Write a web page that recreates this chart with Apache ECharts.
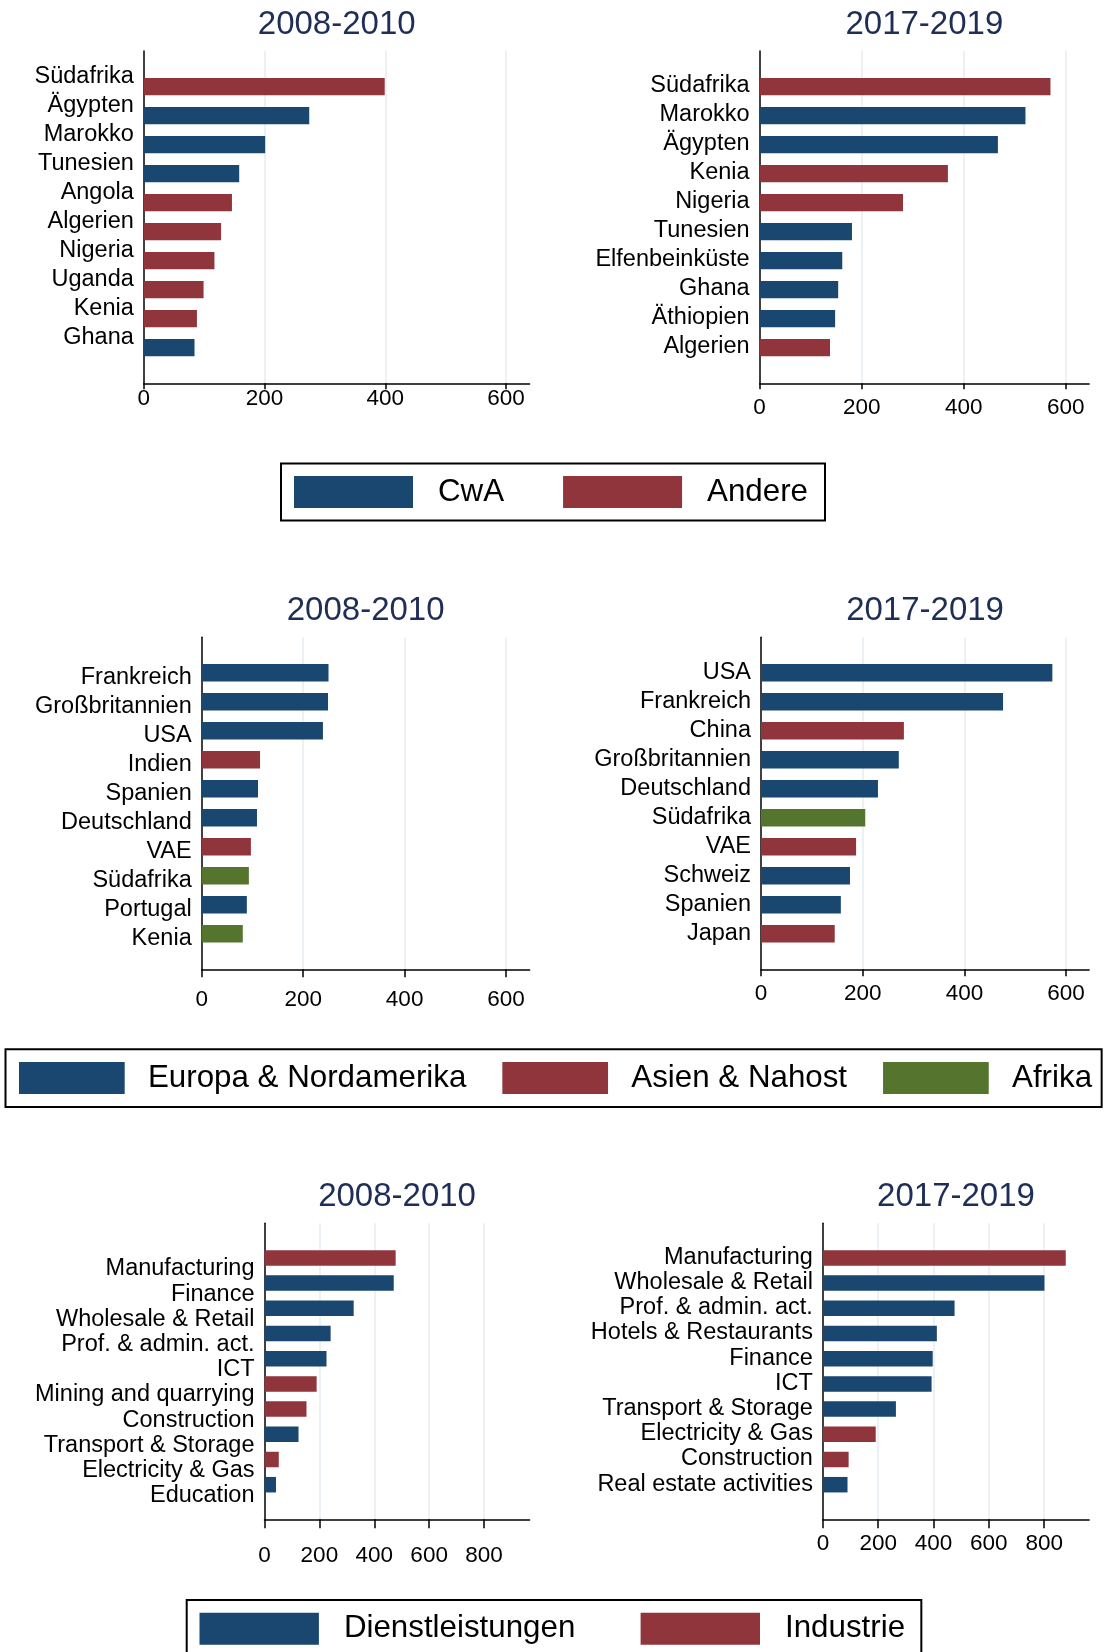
<!DOCTYPE html>
<html>
<head>
<meta charset="utf-8">
<script src="https://cdn.jsdelivr.net/npm/echarts@6/dist/echarts.min.js"></script>
<style>
  html, body { margin: 0; padding: 0; background: #fff; }
  #chart { width: 1105px; height: 1652px; }
</style>
</head>
<body>
<div id="chart"></div>
<script>
// --- data ---
const groupsAfrica = ["CwA", "Andere"];
const groupsRegion = ["Europa & Nordamerika", "Asien & Nahost", "Afrika"];
const groupsSector = ["Dienstleistungen", "Industrie"];

const ticks600 = [0, 200, 400, 600];
const ticks800 = [0, 200, 400, 600, 800];

const cat1 = ["Südafrika", "Ägypten", "Marokko", "Tunesien", "Angola", "Algerien", "Nigeria", "Uganda", "Kenia", "Ghana"];
const val1 = [399, 274, 201, 158, 146, 128, 117, 99, 88, 84];
const grp1 = ["Andere", "CwA", "CwA", "CwA", "Andere", "Andere", "Andere", "Andere", "Andere", "CwA"];

const cat2 = ["Südafrika", "Marokko", "Ägypten", "Kenia", "Nigeria", "Tunesien", "Elfenbeinküste", "Ghana", "Äthiopien", "Algerien"];
const val2 = [570, 521, 467, 369, 281, 181, 162, 154, 148, 138];
const grp2 = ["Andere", "CwA", "CwA", "Andere", "Andere", "CwA", "CwA", "CwA", "CwA", "Andere"];

const cat3 = ["Frankreich", "Großbritannien", "USA", "Indien", "Spanien", "Deutschland", "VAE", "Südafrika", "Portugal", "Kenia"];
const val3 = [250, 249, 239, 115, 111, 109, 97, 93, 89, 81];
const grp3 = ["Europa & Nordamerika", "Europa & Nordamerika", "Europa & Nordamerika", "Asien & Nahost", "Europa & Nordamerika",
              "Europa & Nordamerika", "Asien & Nahost", "Afrika", "Europa & Nordamerika", "Afrika"];

const cat4 = ["USA", "Frankreich", "China", "Großbritannien", "Deutschland", "Südafrika", "VAE", "Schweiz", "Spanien", "Japan"];
const val4 = [573, 476, 281, 271, 230, 205, 187, 175, 157, 145];
const grp4 = ["Europa & Nordamerika", "Europa & Nordamerika", "Asien & Nahost", "Europa & Nordamerika", "Europa & Nordamerika",
              "Afrika", "Asien & Nahost", "Europa & Nordamerika", "Europa & Nordamerika", "Asien & Nahost"];

const cat5 = ["Manufacturing", "Finance", "Wholesale & Retail", "Prof. & admin. act.", "ICT", "Mining and quarrying",
              "Construction", "Transport & Storage", "Electricity & Gas", "Education"];
const val5 = [478, 471, 325, 241, 226, 190, 153, 124, 52, 42];
const grp5 = ["Industrie", "Dienstleistungen", "Dienstleistungen", "Dienstleistungen", "Dienstleistungen", "Industrie",
              "Industrie", "Dienstleistungen", "Industrie", "Dienstleistungen"];

const cat6 = ["Manufacturing", "Wholesale & Retail", "Prof. & admin. act.", "Hotels & Restaurants", "Finance", "ICT",
              "Transport & Storage", "Electricity & Gas", "Construction", "Real estate activities"];
const val6 = [878, 801, 476, 412, 397, 393, 264, 191, 93, 89];
const grp6 = ["Industrie", "Dienstleistungen", "Dienstleistungen", "Dienstleistungen", "Dienstleistungen", "Dienstleistungen",
              "Dienstleistungen", "Industrie", "Industrie", "Dienstleistungen"];

// --- styles / layout ---
const FONT = "'Liberation Sans', Arial, Helvetica, sans-serif";
const BLUE = "#1a476f", RED = "#90353b", GREEN = "#55752f";
const colors = {
  "CwA": BLUE, "Andere": RED,
  "Europa & Nordamerika": BLUE, "Asien & Nahost": RED, "Afrika": GREEN,
  "Dienstleistungen": BLUE, "Industrie": RED
};

const panels = [
  { title: "2008-2010", cats: cat1, vals: val1, grps: grp1, groups: groupsAfrica, ticks: ticks600,
    L: 143.8, T: 51, H: 332.3, R: 529.6, ppu: 0.6038, step: 29, barH: 17.4, lblOff: -10.5, tickMargin: 4, tickLen: 6, titleTop: 8 },
  { title: "2017-2019", cats: cat2, vals: val2, grps: grp2, groups: groupsAfrica, ticks: ticks600,
    L: 759.6, T: 51, H: 332.3, R: 1089.1, ppu: 0.5103, step: 29, barH: 17.4, lblOff: -1, tickMargin: 13, tickLen: 6, titleTop: 8 },
  { title: "2008-2010", cats: cat3, vals: val3, grps: grp3, groups: groupsRegion, ticks: ticks600,
    L: 201.7, T: 637.3, H: 332, R: 529.6, ppu: 0.5073, step: 29, barH: 17.4, lblOff: 5, tickMargin: 19, tickLen: 8, titleTop: 594 },
  { title: "2017-2019", cats: cat4, vals: val4, grps: grp4, groups: groupsRegion, ticks: ticks600,
    L: 761, T: 637.3, H: 332, R: 1089.1, ppu: 0.5085, step: 29, barH: 17.4, lblOff: -0.7, tickMargin: 13, tickLen: 7, titleTop: 594 },
  { title: "2008-2010", cats: cat5, vals: val5, grps: grp5, groups: groupsSector, ticks: ticks800,
    L: 264.5, T: 1223.3, H: 296, R: 529.6, ppu: 0.2744, step: 25.2, barH: 15.5, lblOff: 11, tickMargin: 24.5, tickLen: 9, titleTop: 1180.5 },
  { title: "2017-2019", cats: cat6, vals: val6, grps: grp6, groups: groupsSector, ticks: ticks800,
    L: 822.9, T: 1223.3, H: 296, R: 1089.1, ppu: 0.2766, step: 25.2, barH: 15.5, lblOff: -0.5, tickMargin: 13, tickLen: 9, titleTop: 1180.5 }
];

const grid = [], xAxis = [], yAxis = [], series = [], title = [];
const hidden = { show: false };

panels.forEach((p, k) => {
  const base = k * 4;
  const bandH = p.step * p.cats.length;
  const bandTop = p.T + (p.H - bandH) / 2;
  const tMax = p.ticks[p.ticks.length - 1];
  const axisLine = { show: true, lineStyle: { color: "#000", width: 1.5 } };

  // frame: the two black axis lines
  grid.push({ left: p.L, top: p.T, width: p.R - p.L, height: p.H });
  xAxis.push({ gridIndex: base, type: "value", min: 0, max: 1, axisLine: axisLine,
               axisTick: hidden, axisLabel: hidden, splitLine: hidden });
  yAxis.push({ gridIndex: base, type: "value", min: 0, max: 1, axisLine: axisLine,
               axisTick: hidden, axisLabel: hidden, splitLine: hidden });

  // scale: ticks, tick labels, grid lines
  grid.push({ left: p.L, top: p.T, width: tMax * p.ppu, height: p.H });
  xAxis.push({
    gridIndex: base + 1, type: "value", min: p.ticks[0], max: tMax, interval: p.ticks[1] - p.ticks[0],
    axisLine: { show: false },
    axisTick: { show: true, length: p.tickLen, lineStyle: { color: "#000", width: 1.5 } },
    axisLabel: { margin: p.tickMargin, color: "#000", fontSize: 22.5, fontFamily: FONT },
    splitLine: { show: true, showMinLine: false, lineStyle: { color: "#e4ecf1", width: 1.5 } }
  });
  yAxis.push({ gridIndex: base + 1, type: "value", show: false });

  // bars
  grid.push({ left: p.L, top: bandTop, width: p.R - p.L, height: bandH });
  xAxis.push({ gridIndex: base + 2, type: "value", min: 0, max: (p.R - p.L) / p.ppu, show: false });
  yAxis.push({ gridIndex: base + 2, type: "category", data: p.cats, inverse: true, show: false });

  // category labels (slightly offset from bars, as in the original)
  grid.push({ left: p.L, top: bandTop + p.lblOff, width: p.R - p.L, height: bandH });
  xAxis.push({ gridIndex: base + 3, type: "value", min: 0, max: 1, show: false });
  yAxis.push({
    gridIndex: base + 3, type: "category", data: p.cats, inverse: true,
    axisLine: { show: false }, axisTick: { show: false },
    axisLabel: { interval: 0, margin: 10, color: "#000", fontSize: 23.5, fontFamily: FONT }
  });

  p.groups.forEach(g => {
    series.push({
      type: "bar", name: g, xAxisIndex: base + 2, yAxisIndex: base + 2,
      stack: "p" + k, barWidth: p.barH,
      data: p.vals.map((v, i) => (p.grps[i] === g ? v : "-")),
      itemStyle: { color: colors[g] },
      silent: true
    });
  });

  title.push({
    text: p.title, left: (p.L + p.R) / 2, top: p.titleTop, textAlign: "center", padding: 0,
    textStyle: { fontSize: 33, fontWeight: "normal", color: "#1f2e57", fontFamily: FONT }
  });
});

const legendBase = {
  orient: "horizontal", icon: "rect", itemHeight: 32, selectedMode: false,
  borderColor: "#000", borderWidth: 2, backgroundColor: "#fff"
};
const legendText = (pad) => ({ fontSize: 31.3, color: "#000", fontFamily: FONT, padding: pad });

const legend = [
  Object.assign({}, legendBase, { data: groupsAfrica, left: 281, top: 463.5, itemWidth: 119, itemGap: 59,
    padding: [12.5, 17, 12.5, 13], textStyle: legendText([0, 0, 5, 20]) }),
  Object.assign({}, legendBase, { data: groupsRegion, left: 5.5, top: 1049.2, itemWidth: 105.7, itemGap: 36,
    padding: [12.8, 9.6, 13, 13.5], textStyle: legendText([4, 0, 0, 18.3]) }),
  Object.assign({}, legendBase, { data: groupsSector, left: 186.7, top: 1600, itemWidth: 119.4, itemGap: 65.3,
    padding: [12.7, 16.3, 13, 12.8], textStyle: legendText([0, 0, 7, 20]) })
];

const chart = echarts.init(document.getElementById("chart"), null, { renderer: "canvas" });
chart.setOption({
  backgroundColor: "#fff",
  animation: false,
  title: title,
  legend: legend,
  grid: grid,
  xAxis: xAxis,
  yAxis: yAxis,
  series: series
});
</script>
</body>
</html>
